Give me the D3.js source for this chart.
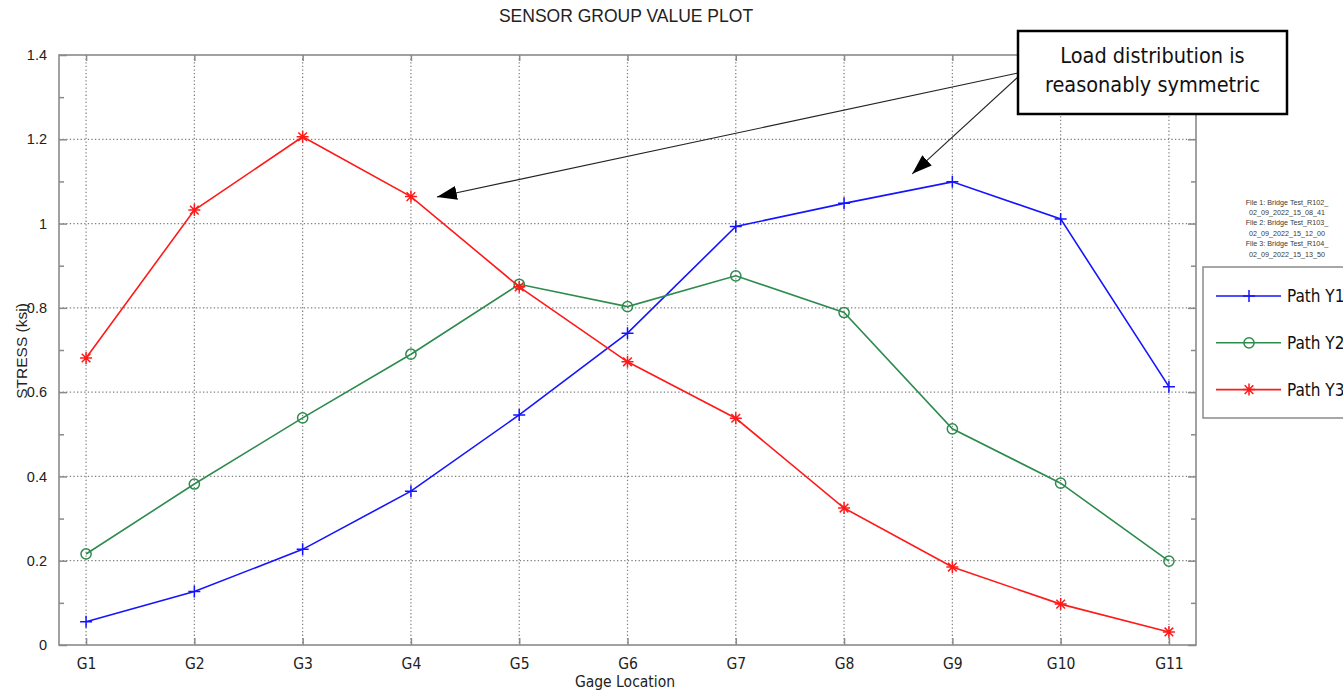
<!DOCTYPE html>
<html>
<head>
<meta charset="utf-8">
<script src="https://cdn.jsdelivr.net/npm/d3@7"></script>
<style>
  html, body { margin: 0; padding: 0; background: #fff; }
  svg { display: block; }
</style>
</head>
<body>
<svg id="chart" width="1343" height="690"></svg>
<script>
// Gage locations along the bridge
const gages = ["G1", "G2", "G3", "G4", "G5", "G6", "G7", "G8", "G9", "G10", "G11"];

// Stress (ksi) per load path
const pathY1 = [0.055, 0.127, 0.227, 0.365, 0.546, 0.740, 0.993, 1.048, 1.099, 1.011, 0.613];
const pathY2 = [0.216, 0.382, 0.539, 0.690, 0.856, 0.803, 0.876, 0.789, 0.513, 0.384, 0.199];
const pathY3 = [0.681, 1.032, 1.206, 1.064, 0.850, 0.672, 0.538, 0.325, 0.185, 0.097, 0.031];

const seriesNames = ["Path Y1", "Path Y2", "Path Y3"];

// Y axis ticks
const yTicks = [0, 0.2, 0.4, 0.6, 0.8, 1.0, 1.2, 1.4];
const yTickLabels = ["0", "0.2", "0.4", "0.6", "0.8", "1", "1.2", "1.4"];
const yMinorTicks = [0.1, 0.3, 0.5, 0.7, 0.9, 1.1, 1.3];

const fileInfo = [
  "File 1: Bridge Test_R102_",
  "02_09_2022_15_08_41",
  "File 2: Bridge Test_R103_",
  "02_09_2022_15_12_00",
  "File 3: Bridge Test_R104_",
  "02_09_2022_15_13_50"
];

const noteLines = ["Load distribution is", "reasonably symmetric"];
// Arrow targets in data units (gage index, stress)
const noteTargets = [[4.24, 1.063], [8.63, 1.118]];

const svg = d3.select("#chart");
const plot = { left: 59, right: 1196, top: 55, bottom: 645 };

const x = d3.scaleLinear().domain([0.75, 11.25]).range([plot.left, plot.right]);
const y = d3.scaleLinear().domain([0, 1.4]).range([plot.bottom, plot.top]);

const sansCond = "'DejaVu Sans Condensed', 'DejaVu Sans', sans-serif";
const arialLike = "'Liberation Sans', Arial, sans-serif";
const axisGray = "#8a8a8a";
const gridGray = "#7e7e7e";

// Grid lines
const grid = svg.append("g");
grid.selectAll("line.gx").data(gages).enter().append("line")
  .attr("x1", (d, i) => x(i + 1)).attr("x2", (d, i) => x(i + 1))
  .attr("y1", plot.top).attr("y2", plot.bottom)
  .attr("stroke", gridGray).attr("stroke-width", 1.2)
  .attr("stroke-dasharray", "1.3,2.3");
grid.selectAll("line.gy").data(yTicks.slice(1, -1)).enter().append("line")
  .attr("x1", plot.left).attr("x2", plot.right)
  .attr("y1", d => y(d)).attr("y2", d => y(d))
  .attr("stroke", gridGray).attr("stroke-width", 1.2)
  .attr("stroke-dasharray", "1.3,2.3");

// Axes: bottom, left, top, right with inward ticks
const xTickVals = gages.map((d, i) => i + 1);
const axB = d3.axisBottom(x).tickValues(xTickVals).tickSize(-7).tickFormat((d) => gages[d - 1]).tickPadding(13);
const axT = d3.axisTop(x).tickValues(xTickVals).tickSize(-6).tickFormat("");
const axL = d3.axisLeft(y).tickValues(yTicks).tickSize(-8).tickFormat((d, i) => yTickLabels[i]).tickPadding(12);
const axR = d3.axisRight(y).tickValues(yTicks).tickSize(-8).tickFormat("");
const axLm = d3.axisLeft(y).tickValues(yMinorTicks).tickSize(-5).tickFormat("");
const axRm = d3.axisRight(y).tickValues(yMinorTicks).tickSize(-5).tickFormat("");

function styleAxis(g) {
  g.select(".domain").remove();
  g.selectAll(".tick line").attr("stroke", axisGray).attr("stroke-width", 1.5);
}

svg.append("g").attr("transform", `translate(0,${plot.bottom})`).call(axB).call(styleAxis)
  .selectAll("text").attr("font-family", sansCond).attr("font-size", 15.5).attr("fill", "#222");
svg.append("g").attr("transform", `translate(0,${plot.top})`).call(axT).call(styleAxis);
svg.append("g").attr("transform", `translate(${plot.left},0)`).call(axL).call(styleAxis)
  .selectAll("text").attr("font-family", arialLike).attr("font-size", 14.5).attr("fill", "#222");
svg.append("g").attr("transform", `translate(${plot.right},0)`).call(axR).call(styleAxis);
svg.append("g").attr("transform", `translate(${plot.left},0)`).call(axLm).call(styleAxis);
svg.append("g").attr("transform", `translate(${plot.right},0)`).call(axRm).call(styleAxis);

// Plot frame
svg.append("rect")
  .attr("x", plot.left).attr("y", plot.top)
  .attr("width", plot.right - plot.left).attr("height", plot.bottom - plot.top)
  .attr("fill", "none").attr("stroke", axisGray).attr("stroke-width", 1.6);

// Series
const series = [
  { name: seriesNames[0], values: pathY1, color: "#1414ff", marker: "plus" },
  { name: seriesNames[1], values: pathY2, color: "#2e8b4e", marker: "circle" },
  { name: seriesNames[2], values: pathY3, color: "#ff1a1a", marker: "star" }
];

function drawMarker(g, type, cx, cy, color, s) {
  if (type === "plus") {
    g.append("path").attr("d", `M${cx - s},${cy}H${cx + s}M${cx},${cy - s}V${cy + s}`)
      .attr("stroke", color).attr("stroke-width", 1.5).attr("fill", "none");
  } else if (type === "circle") {
    g.append("circle").attr("cx", cx).attr("cy", cy).attr("r", s * 0.85)
      .attr("stroke", color).attr("stroke-width", 1.5).attr("fill", "none");
  } else {
    const d = s * 0.72;
    g.append("path")
      .attr("d", `M${cx - s},${cy}H${cx + s}M${cx},${cy - s}V${cy + s}M${cx - d},${cy - d}L${cx + d},${cy + d}M${cx - d},${cy + d}L${cx + d},${cy - d}`)
      .attr("stroke", color).attr("stroke-width", 1.5).attr("fill", "none");
  }
}

const line = d3.line().x((d, i) => x(i + 1)).y(d => y(d));
series.forEach(s => {
  const g = svg.append("g");
  g.append("path").datum(s.values).attr("d", line)
    .attr("fill", "none").attr("stroke", s.color).attr("stroke-width", 1.6);
  s.values.forEach((v, i) => drawMarker(g, s.marker, x(i + 1), y(v), s.color, 6));
});

// Title and axis labels
svg.append("text").attr("x", 626).attr("y", 22).attr("text-anchor", "middle")
  .attr("font-family", arialLike).attr("font-size", 17.5).attr("fill", "#222")
  .text("SENSOR GROUP VALUE PLOT");
svg.append("text").attr("x", 625).attr("y", 687).attr("text-anchor", "middle")
  .attr("font-family", sansCond).attr("font-size", 15.5).attr("fill", "#222")
  .text("Gage Location");
svg.append("text").attr("transform", "translate(27,351) rotate(-90)").attr("text-anchor", "middle")
  .attr("font-family", arialLike).attr("font-size", 15.5).attr("fill", "#222")
  .text("STRESS (ksi)");

// File info block
svg.append("g").selectAll("text").data(fileInfo).enter().append("text")
  .attr("x", 1287).attr("y", (d, i) => 204.5 + i * 10.4)
  .attr("text-anchor", "middle")
  .attr("font-family", arialLike).attr("font-size", 7.2).attr("fill", "#3a3a30")
  .text(d => d);

// Legend
const legend = svg.append("g");
legend.append("rect").attr("x", 1203).attr("y", 267).attr("width", 160).attr("height", 151)
  .attr("fill", "#fff").attr("stroke", axisGray).attr("stroke-width", 1.5);
series.forEach((s, i) => {
  const ly = 296 + i * 46.8;
  legend.append("line").attr("x1", 1216).attr("x2", 1281).attr("y1", ly).attr("y2", ly)
    .attr("stroke", s.color).attr("stroke-width", 1.6);
  drawMarker(legend, s.marker, 1249, ly, s.color, 6);
  legend.append("text").attr("x", 1287).attr("y", ly + 6)
    .attr("font-family", sansCond).attr("font-size", 17).attr("fill", "#111")
    .text(s.name);
});

// Annotation box with arrows
const note = svg.append("g");
const box = { x: 1018, y: 31, w: 269, h: 83 };
const starts = [[box.x, 73], [box.x, 77]];
svg.append("defs").append("marker")
  .attr("id", "arrowhead").attr("viewBox", "0 0 20 14").attr("refX", 20).attr("refY", 7)
  .attr("markerWidth", 20).attr("markerHeight", 14).attr("markerUnits", "userSpaceOnUse")
  .attr("orient", "auto")
  .append("path").attr("d", "M0,0L20,7L0,14Z").attr("fill", "#000");
noteTargets.forEach((t, i) => {
  note.append("line")
    .attr("x1", starts[i][0]).attr("y1", starts[i][1])
    .attr("x2", x(t[0])).attr("y2", y(t[1]))
    .attr("stroke", "#222").attr("stroke-width", 1.1)
    .attr("marker-end", "url(#arrowhead)");
});
note.append("rect").attr("x", box.x).attr("y", box.y).attr("width", box.w).attr("height", box.h)
  .attr("fill", "#fff").attr("stroke", "#000").attr("stroke-width", 2.5);
note.selectAll("text.n").data(noteLines).enter().append("text")
  .attr("x", box.x + box.w / 2).attr("y", (d, i) => 63 + i * 29)
  .attr("text-anchor", "middle")
  .attr("font-family", sansCond).attr("font-size", 21.5).attr("fill", "#111")
  .text(d => d);
</script>
</body>
</html>
